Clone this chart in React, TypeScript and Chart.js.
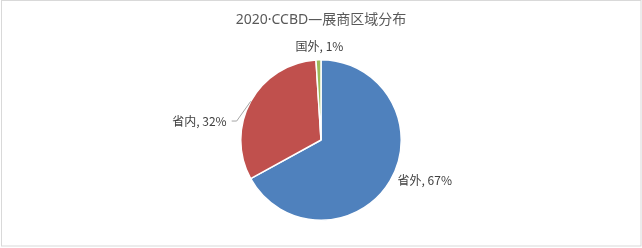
import React, { useEffect, useRef } from "react";
import { Chart, registerables } from "chart.js";

Chart.register(...registerables);

const TITLE = "2020·CCBD—展商区域分布";
const categories = ["省外", "省内", "国外"];
const values = [67, 32, 1];
const colors = ["#4F81BD", "#C0504D", "#9BBB59"];

const FONT = '"Noto Sans CJK SC", "Noto Sans", sans-serif';
const TITLE_FONT = '"Noto Sans", "Noto Sans CJK SC", sans-serif';

// label placement relative to the slice's outer-edge midpoint
const labelPlacement = [
  { dx: 7.5, dy: -0.5, align: "left", leader: null },
  { dx: -24, dy: 20.5, align: "right", leader: [[-14, 19.7], [-19, 19.7]] },
  { dx: 1, dy: -13.3, align: "center", leader: null },
];

const decorPlugin = {
  id: "decor",
  beforeDraw(chart: any) {
    const ctx = chart.ctx;
    ctx.save();
    ctx.fillStyle = "#ffffff";
    ctx.fillRect(0, 0, chart.width, chart.height);
    ctx.strokeStyle = "#d9d9d9";
    ctx.lineWidth = 1;
    ctx.strokeRect(1.5, 0.5, 639.5, 245.5);
    ctx.restore();
  },
  afterDraw(chart: any) {
    const ctx = chart.ctx;
    ctx.save();
    ctx.fillStyle = "#595959";
    ctx.font = `14px ${TITLE_FONT}`;
    ctx.textAlign = "center";
    ctx.textBaseline = "middle";
    ctx.fillText(TITLE, 321, 20.5);

    const meta = chart.getDatasetMeta(0);
    const total = values.reduce((a, b) => a + b, 0);
    meta.data.forEach((arc: any, i: number) => {
      const { x, y, startAngle, endAngle, outerRadius } = arc.getProps(
        ["x", "y", "startAngle", "endAngle", "outerRadius"],
        true
      );
      const mid = (startAngle + endAngle) / 2;
      const ex = x + Math.cos(mid) * outerRadius;
      const ey = y + Math.sin(mid) * outerRadius;
      const p = labelPlacement[i];
      if (p.leader) {
        ctx.strokeStyle = "#a6a6a6";
        ctx.lineWidth = 1;
        ctx.beginPath();
        ctx.moveTo(ex, ey);
        p.leader.forEach(([lx, ly]) => ctx.lineTo(ex + lx, ey + ly));
        ctx.stroke();
      }
      const pct = Math.round((values[i] / total) * 100);
      ctx.fillStyle = "#404040";
      ctx.font = `12px ${FONT}`;
      ctx.textAlign = p.align as CanvasTextAlign;
      ctx.textBaseline = "middle";
      ctx.fillText(`${categories[i]}, ${pct}%`, ex + p.dx, ey + p.dy);
    });
    ctx.restore();
  },
};

export default function App() {
  const ref = useRef<HTMLCanvasElement>(null);
  useEffect(() => {
    document.body.style.margin = "0";
    const chart = new Chart(ref.current!, {
      type: "pie",
      data: {
        labels: categories,
        datasets: [
          {
            data: values,
            backgroundColor: colors,
            borderColor: "#ffffff",
            borderWidth: 1.5,
          },
        ],
      },
      options: {
        animation: false,
        responsive: false,
        maintainAspectRatio: false,
        layout: { padding: { left: 240, right: 240, top: 59, bottom: 27 } },
        plugins: {
          legend: { display: false },
          tooltip: { enabled: false },
          title: { display: false },
        },
      },
      plugins: [decorPlugin],
    });
    return () => chart.destroy();
  }, []);
  return (
    <div style={{ position: "fixed", left: 0, top: 0, width: 642, height: 248 }}>
      <canvas ref={ref} width={642} height={248} style={{ width: 642, height: 248 }} />
    </div>
  );
}
